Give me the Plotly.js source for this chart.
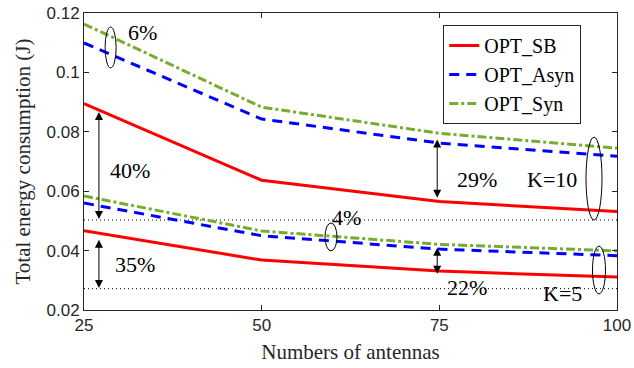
<!DOCTYPE html>
<html><head><meta charset="utf-8">
<script src="https://cdn.plot.ly/plotly-3.0.1.min.js"></script>
<style>html,body{margin:0;padding:0;background:#fff}#chart{width:634px;height:368px}</style>
</head><body><div id="chart"></div>
<script>
const antennas = [25, 50, 75, 100];
const sb10   = [0.0895, 0.0637, 0.0565, 0.0532];
const asyn10 = [0.1099, 0.0843, 0.0762, 0.0718];
const syn10  = [0.1163, 0.0883, 0.0795, 0.0745];
const sb5    = [0.0467, 0.0368, 0.0331, 0.0311];
const asyn5  = [0.0560, 0.0450, 0.0405, 0.0383];
const syn5   = [0.0584, 0.0466, 0.0421, 0.0399];
const refLevels = [0.0503, 0.0272];
const yTicks = [0.02, 0.04, 0.06, 0.08, 0.1, 0.12];
const yTickText = ['0.02', '0.04', '0.06', '0.08', '0.1', '0.12'];
const xTicks = [25, 50, 75, 100];

const RED = '#FF0000', BLUE = '#0000FF', GREEN = '#77AC30';
const serif = 'Liberation Serif, Times New Roman, serif';
const sans = 'Liberation Sans, Arial, sans-serif';

function tr(y, name, color, dash, show) {
  return {x: antennas, y: y, name: name, mode: 'lines', showlegend: show,
    line: {color: color, width: 3, dash: dash}};
}
const data = [
  tr(sb10, 'OPT_SB', RED, 'solid', true),
  tr(asyn10, 'OPT_Asyn', BLUE, '10px,7px', true),
  tr(syn10, 'OPT_Syn', GREEN, '9px,3px,3px,3px', true),
  tr(sb5, 'OPT_SB', RED, 'solid', false),
  tr(asyn5, 'OPT_Asyn', BLUE, '10px,7px', false),
  tr(syn5, 'OPT_Syn', GREEN, '9px,3px,3px,3px', false)
];

const shapes = [];
refLevels.forEach(v => shapes.push({type: 'line', xref: 'x', yref: 'y', x0: 25, x1: 100, y0: v, y1: v,
  line: {color: '#000', width: 1, dash: '1px,3px'}, layer: 'below'}));
const ellipses = [
  [27.97, 29.52, 0.1015, 0.1153],
  [58.91, 60.60, 0.0399, 0.0493],
  [95.64, 97.89, 0.0503, 0.0782],
  [96.55, 98.38, 0.0254, 0.0415]
];
ellipses.forEach(e => shapes.push({type: 'circle', xref: 'x', yref: 'y', x0: e[0], x1: e[1], y0: e[2], y1: e[3],
  line: {color: '#000', width: 1}}));

const annotations = [];
const arrows = [
  [27.1, 0.0872, 0.0506],
  [27.1, 0.0442, 0.0274],
  [74.7, 0.0779, 0.0578],
  [74.7, 0.0415, 0.0322]
];
arrows.forEach(a => annotations.push({x: a[0], y: a[2], ax: a[0], ay: a[1], xref: 'x', yref: 'y', axref: 'x', ayref: 'y',
  text: '', showarrow: true, arrowhead: 2, startarrowhead: 2, arrowside: 'end+start', arrowsize: 1.6, arrowwidth: 1, arrowcolor: '#000'}));
const labels = [
  ['6%', 33.2, 0.1136], ['40%', 31.5, 0.0671], ['35%', 32.2, 0.0352], ['4%', 62.0, 0.0513],
  ['29%', 80.3, 0.0638], ['22%', 78.9, 0.0277], ['K=10', 90.85, 0.0638], ['K=5', 92.4, 0.0257]
];
labels.forEach(l => annotations.push({x: l[1], y: l[2], xref: 'x', yref: 'y', text: l[0], showarrow: false,
  font: {family: serif, size: 22, color: '#000'}}));

const layout = {
  width: 634, height: 368,
  margin: {l: 84, r: 17, t: 13, b: 58},
  paper_bgcolor: '#fff', plot_bgcolor: '#fff',
  xaxis: {range: [25, 100], tickvals: xTicks, ticks: 'inside', ticklen: 5, tickcolor: '#262626',
    showline: true, linecolor: '#262626', linewidth: 1, mirror: 'ticks', showgrid: false, zeroline: false,
    tickfont: {family: sans, size: 17, color: '#262626'},
    title: {text: 'Numbers of antennas', font: {family: serif, size: 21, color: '#262626'}, standoff: 9}},
  yaxis: {range: [0.02, 0.12], tickvals: yTicks, ticktext: yTickText, ticks: 'inside', ticklen: 5, tickcolor: '#262626',
    showline: true, linecolor: '#262626', linewidth: 1, mirror: 'ticks', showgrid: false, zeroline: false,
    tickfont: {family: sans, size: 17, color: '#262626'},
    title: {text: 'Total energy consumption (J)', font: {family: serif, size: 21, color: '#262626'}, standoff: 10}},
  legend: {x: 0.674, y: 0.96, xanchor: 'left', yanchor: 'top', bgcolor: '#fff', bordercolor: '#262626', borderwidth: 1,
    font: {family: serif, size: 20, color: '#000'}, tracegroupgap: 0},
  shapes: shapes,
  annotations: annotations
};
Plotly.newPlot('chart', data, layout, {displayModeBar: false, staticPlot: true});
</script>
</body></html>
